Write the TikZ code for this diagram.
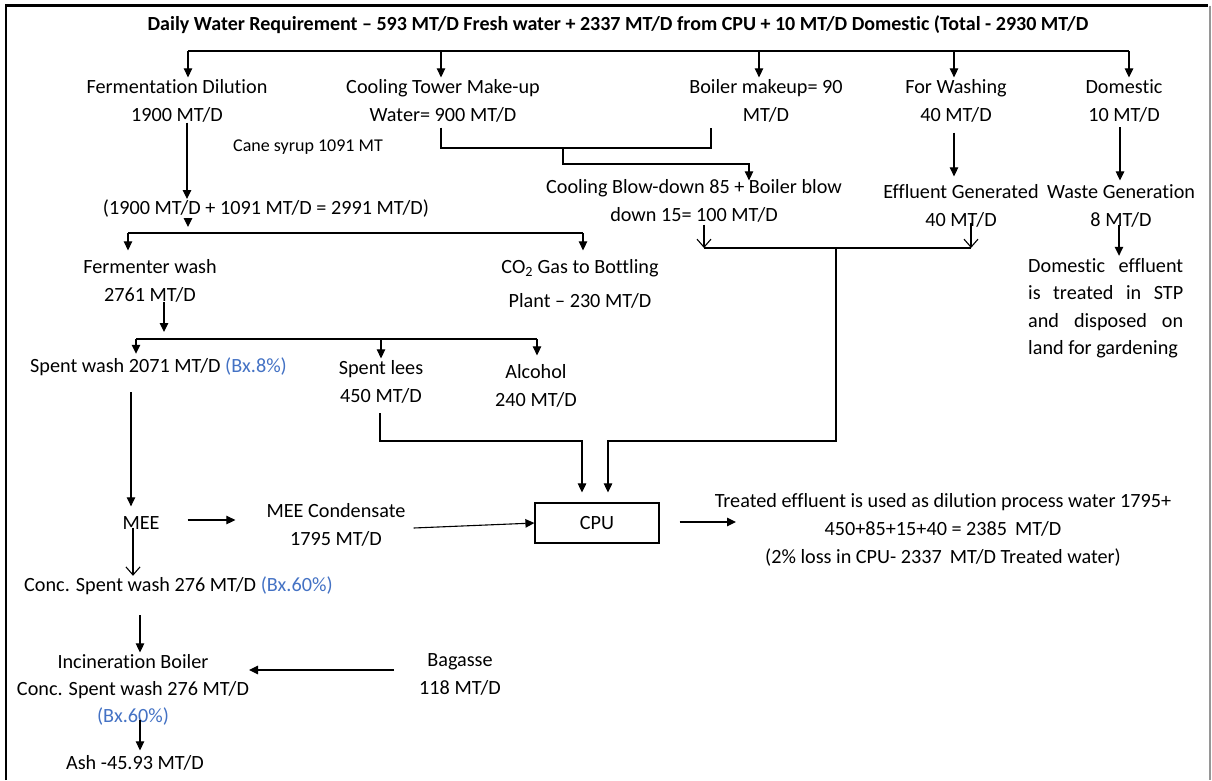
\documentclass[tikz,border=0pt]{standalone}
\usepackage{fontspec}
\setmainfont{Carlito}[Ligatures={NoCommon,NoContextual}]
\usetikzlibrary{arrows.meta}
\definecolor{bxblue}{RGB}{68,114,196}
\definecolor{framegray}{RGB}{150,150,150}
\begin{document}
\begin{tikzpicture}[x=1pt,y=-1pt,
  txt/.style={font=\fontsize{20.2}{28}\selectfont, align=center, inner sep=0pt},
  smalltxt/.style={font=\fontsize{18}{22}\selectfont, inner sep=0pt},
  titletxt/.style={font=\bfseries\fontsize{20}{24}\selectfont, inner sep=0pt},
  ln/.style={line width=1.1pt},
  arr/.style={ln, -{Triangle[length=9pt,width=8.5pt]}},
  oarr/.style={ln, -{Straight Barb[length=8pt,width=14pt]}},
  boxnode/.style={draw, line width=1.2pt, minimum width=124pt, minimum height=40pt, inner sep=0pt, font=\fontsize{20.2}{24}\selectfont}
]
\useasboundingbox (0,0) rectangle (1212,780);
% frame
\draw[line width=2.6pt] (6,780) -- (6,5.5) -- (1208,5.5);
\draw[line width=1.6pt, framegray] (1210,5.5) -- (1210,780);

% nodes
\node[titletxt] (title) at (618,25) {Daily Water Requirement – 593 MT/D Fresh water + 2337 MT/D from CPU + 10 MT/D Domestic (Total - 2930 MT/D};
\node[txt] (ferm) at (177,101) {Fermentation Dilution\\1900 MT/D};
\node[txt] (cool) at (443,101) {Cooling Tower Make-up\\Water= 900 MT/D};
\node[txt] (boil) at (766,101) {Boiler makeup= 90\\MT/D};
\node[txt] (wash) at (956,101) {For Washing\\40 MT/D};
\node[txt] (dom) at (1124,101) {Domestic\\10 MT/D};
\node[smalltxt] (cane) at (308,147) {Cane syrup 1091 MT};
\node[txt] (mix) at (266,209) {(1900 MT/D + 1091 MT/D = 2991 MT/D)};
\node[txt] (blow) at (694,201) {Cooling Blow-down 85 + Boiler blow\\down 15= 100 MT/D};
\node[txt] (effl) at (961,206) {Effluent Generated\\40 MT/D};
\node[txt] (waste) at (1121,206) {Waste Generation\\8 MT/D};
\node[txt, align=left, font=\fontsize{20.2}{27.5}\selectfont, anchor=west] (domeff) at (1028,308)
  {\makebox[155pt][s]{Domestic effluent}\\\makebox[155pt][s]{is treated in STP}\\\makebox[155pt][s]{and disposed on}\\land for gardening};
\node[txt] (fwash) at (150,281) {Fermenter wash\\2761 MT/D};
\node[txt] (co2) at (580,284) {CO\textsubscript{2} Gas to Bottling\\[6pt]Plant – 230 MT/D};
\node[txt, anchor=west] (spent) at (30,367) {Spent wash 2071 MT/D \textcolor{bxblue}{(Bx.8\%)}};
\node[txt] (lees) at (381,382) {Spent lees\\450 MT/D};
\node[txt] (alc) at (536,386) {Alcohol\\240 MT/D};
\node[txt] (mee) at (141,523) {MEE};
\node[txt] (meec) at (336,525) {MEE Condensate\\1795 MT/D};
\node[boxnode] (cpu) at (597,523) {CPU};
\node[txt] (treat) at (943,530) {Treated effluent is used as dilution process water 1795+\\450+85+15+40 = 2385 \,MT/D\\(2\% loss in CPU- 2337 \,MT/D Treated water)};
\node[txt, anchor=west] (conc) at (24,586) {Conc. Spent wash 276 MT/D \textcolor{bxblue}{(Bx.60\%)}};
\node[txt, font=\fontsize{20.2}{27}\selectfont] (incin) at (133,690) {Incineration Boiler\\Conc. Spent wash 276 MT/D\\\textcolor{bxblue}{(Bx.60\%)}};
\node[txt] (bag) at (460,674) {Bagasse\\118 MT/D};
\node[txt] (ash) at (135,763) {Ash -45.93 MT/D};

% top distribution bus
\coordinate (b1) at (188,51);
\coordinate (b2) at (441,51);
\coordinate (b3) at (759,51);
\coordinate (b4) at (954,51);
\coordinate (b5) at (1129,51);
\draw[ln] (b1) -- (b5);
\draw[arr] (b1) -- ([yshift=2pt]b1 |- ferm.north);
\draw[arr] (b2) -- ([yshift=2pt]b2 |- cool.north);
\draw[arr] (b3) -- ([yshift=2pt]b3 |- boil.north);
\draw[arr] (b4) -- ([yshift=2pt]b4 |- wash.north);
\draw[arr] (b5) -- ([yshift=2pt]b5 |- dom.north);

% fermentation dilution
\draw[arr] ([xshift=10pt]ferm.south) -- ([xshift=10pt,yshift=1pt]ferm.south |- mix.north);
\coordinate (fm) at (188,233);
\coordinate (f1) at (128,233);
\coordinate (f2) at (583,233);
\draw[arr] (mix.south -| fm) -- ([yshift=6pt]fm);
\draw[ln] (f1) -- (f2);
\draw[arr] (f1) -- ([yshift=9pt]f1 |- fwash.north);
\draw[arr] (f2) -- ([yshift=9pt]f2 |- co2.north);

% cooling tower / boiler blowdown
\coordinate (cb1) at (441,148);
\coordinate (cb2) at (711,148);
\coordinate (cm) at (563,148);
\coordinate (cm2) at (563,164);
\coordinate (cm3) at (749,164);
\draw[ln] ([yshift=-5pt]cool.south -| cb1) -- (cb1) -- (cb2) -- ([yshift=-5pt]boil.south -| cb2);
\draw[arr] (cm) -- (cm2) -- (cm3) -- ([yshift=-1pt]cm3 |- blow.north);

% effluent collection to CPU
\coordinate (bl) at (704,248);
\coordinate (br) at (971,248);
\coordinate (vm) at (836,248);
\coordinate (vb) at (836,441);
\coordinate (vl) at (608,441);
\draw[oarr] ([yshift=-2pt]blow.south -| bl) -- (bl);
\draw[oarr] ([yshift=5pt]effl.south -| br) -- (br);
\draw[ln] (bl) -- (br);
\draw[arr] (vm) -- (vb) -- (vl) -- ([yshift=10pt]cpu.north -| vl);

% washing, domestic
\draw[arr] ([yshift=-10pt]wash.south -| b4) -- ([yshift=8pt]b4 |- effl.north);
\coordinate (dx) at (1120,127);
\draw[arr] (dx) -- ([yshift=4pt]dx |- waste.north);
\coordinate (wd) at (1119,225);
\draw[arr] (wd) -- ([yshift=2pt]wd |- domeff.north);

% fermenter wash split
\coordinate (s0) at (164,302);
\coordinate (sm) at (164,339);
\coordinate (s1) at (136,339);
\coordinate (s2) at (381,339);
\coordinate (s3) at (537,339);
\draw[arr] (s0) -- ([yshift=7pt]sm);
\draw[ln] (s1) -- (s3);
\draw[arr] (s1) -- ([yshift=4pt]s1 |- spent.north);
\draw[arr] (s2) -- ([yshift=2pt]s2 |- lees.north);
\draw[arr] (s3) -- ([yshift=9pt]s3 |- alc.north);

% spent lees to CPU
\coordinate (ls) at (380,413);
\coordinate (lb) at (380,441);
\coordinate (la) at (582,441);
\draw[arr] (ls) -- (lb) -- (la) -- ([yshift=10pt]cpu.north -| la);

% spent wash -> MEE -> ...
\coordinate (sw) at (131,392);
\draw[arr] (sw) -- ([yshift=10pt]sw |- mee.north);
\draw[arr] ([xshift=28pt,yshift=3pt]mee.east) -- ([xshift=-31pt,yshift=5pt]meec.west);
\draw[arr] ([xshift=8pt,yshift=-3pt]meec.east) -- (cpu.west);
\coordinate (te) at (736,522);
\draw[arr] ([xshift=20pt,yshift=1pt]cpu.east) -- (te);
\draw[oarr] ([xshift=-8pt,yshift=2pt]mee.south) -- ([xshift=-8pt,yshift=1pt]mee.south |- conc.north);
\coordinate (cs) at (140,615);
\draw[arr] (cs) -- ([yshift=2pt]cs |- incin.north);
\coordinate (bg) at (394,670);
\coordinate (ib) at (249,670);
\draw[arr] (bg) -- (ib);
\coordinate (ia) at (140,720);
\draw[arr] (ia) -- ([yshift=5pt]ia |- ash.north);
\end{tikzpicture}
\end{document}
